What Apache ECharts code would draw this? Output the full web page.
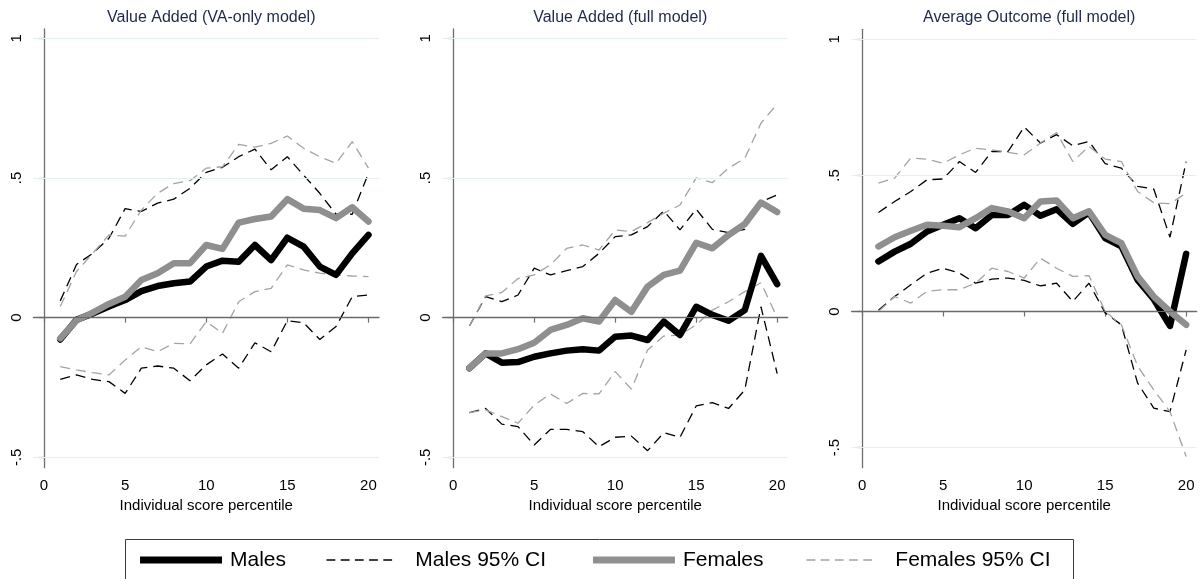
<!DOCTYPE html>
<html>
<head>
<meta charset="utf-8">
<script src="https://cdn.jsdelivr.net/npm/echarts@6/dist/echarts.min.js"></script>
<style>
  html, body { margin: 0; padding: 0; background: #fff; }
  #chart { width: 1202px; height: 579px; }
</style>
</head>
<body>
<div id="chart"></div>
<script>
// Individual score percentile (x positions shared by all panels)
const percentiles = [1, 2, 3, 4, 5, 6, 7, 8, 9, 10, 11, 12, 13, 14, 15, 16, 17, 18, 19, 20];

// Panel 1: Value Added (VA-only model)
const vaOnlyMales        = [-0.078, -0.008, 0.015, 0.040, 0.063, 0.095, 0.113, 0.123, 0.129, 0.183, 0.204, 0.200, 0.260, 0.206, 0.286, 0.254, 0.183, 0.153, 0.230, 0.296];
const vaOnlyMalesUpper   = [0.060, 0.190, 0.230, 0.284, 0.390, 0.380, 0.410, 0.424, 0.463, 0.520, 0.538, 0.576, 0.603, 0.529, 0.576, 0.510, 0.445, 0.370, 0.370, 0.517];
const vaOnlyMalesLower   = [-0.221, -0.205, -0.221, -0.229, -0.271, -0.181, -0.173, -0.181, -0.226, -0.169, -0.130, -0.181, -0.090, -0.122, -0.011, -0.018, -0.078, -0.032, 0.075, 0.081];
const vaOnlyFemales      = [-0.074, -0.010, 0.018, 0.049, 0.075, 0.135, 0.159, 0.195, 0.195, 0.260, 0.246, 0.340, 0.353, 0.362, 0.424, 0.390, 0.385, 0.356, 0.395, 0.344];
const vaOnlyFemalesUpper = [0.040, 0.165, 0.230, 0.296, 0.292, 0.385, 0.445, 0.480, 0.490, 0.535, 0.540, 0.620, 0.610, 0.624, 0.650, 0.606, 0.576, 0.552, 0.630, 0.535];
const vaOnlyFemalesLower = [-0.175, -0.187, -0.197, -0.205, -0.152, -0.104, -0.122, -0.092, -0.094, -0.014, -0.056, 0.057, 0.093, 0.105, 0.189, 0.171, 0.159, 0.153, 0.149, 0.147];

// Panel 2: Value Added (full model)
const vaFullMales        = [-0.181, -0.128, -0.161, -0.159, -0.140, -0.128, -0.118, -0.113, -0.118, -0.068, -0.064, -0.080, -0.014, -0.062, 0.039, 0.010, -0.011, 0.027, 0.221, 0.120];
const vaFullMalesUpper   = [-0.030, 0.075, 0.057, 0.081, 0.177, 0.153, 0.168, 0.183, 0.230, 0.290, 0.296, 0.326, 0.382, 0.314, 0.388, 0.316, 0.304, 0.316, 0.415, 0.439];
const vaFullMalesLower   = [-0.340, -0.325, -0.381, -0.390, -0.456, -0.400, -0.400, -0.408, -0.462, -0.428, -0.424, -0.476, -0.412, -0.428, -0.316, -0.304, -0.325, -0.259, 0.039, -0.200];
const vaFullFemales      = [-0.181, -0.128, -0.128, -0.113, -0.090, -0.044, -0.026, -0.002, -0.014, 0.063, 0.021, 0.111, 0.153, 0.168, 0.268, 0.248, 0.296, 0.335, 0.412, 0.378];
const vaFullFemalesUpper = [-0.030, 0.078, 0.090, 0.140, 0.153, 0.189, 0.248, 0.260, 0.242, 0.314, 0.308, 0.340, 0.374, 0.403, 0.500, 0.483, 0.535, 0.570, 0.696, 0.765];
const vaFullFemalesLower = [-0.340, -0.330, -0.354, -0.378, -0.313, -0.273, -0.307, -0.271, -0.273, -0.193, -0.256, -0.116, -0.066, -0.062, -0.026, 0.027, 0.057, 0.093, 0.125, 0.000];

// Panel 3: Average Outcome (full model)
const avgMales           = [0.184, 0.220, 0.249, 0.294, 0.319, 0.343, 0.306, 0.355, 0.355, 0.392, 0.352, 0.376, 0.322, 0.364, 0.270, 0.239, 0.116, 0.045, -0.053, 0.212];
const avgMalesUpper      = [0.364, 0.404, 0.441, 0.484, 0.487, 0.551, 0.511, 0.588, 0.588, 0.678, 0.619, 0.650, 0.609, 0.625, 0.543, 0.527, 0.460, 0.450, 0.273, 0.551];
const avgMalesLower      = [0.005, 0.055, 0.098, 0.141, 0.159, 0.141, 0.104, 0.119, 0.123, 0.114, 0.094, 0.104, 0.037, 0.104, -0.005, -0.049, -0.263, -0.355, -0.368, -0.141];
const avgFemales         = [0.239, 0.273, 0.297, 0.319, 0.315, 0.310, 0.343, 0.380, 0.368, 0.343, 0.404, 0.408, 0.343, 0.368, 0.282, 0.251, 0.129, 0.055, 0.000, -0.049];
const avgFemalesUpper    = [0.472, 0.490, 0.564, 0.560, 0.545, 0.576, 0.600, 0.594, 0.585, 0.576, 0.619, 0.658, 0.551, 0.607, 0.560, 0.551, 0.441, 0.400, 0.396, 0.435];
const avgFemalesLower    = [0.000, 0.055, 0.031, 0.074, 0.080, 0.080, 0.104, 0.159, 0.147, 0.123, 0.196, 0.159, 0.129, 0.132, 0.000, -0.049, -0.200, -0.288, -0.368, -0.533];

// Axis ticks and labels
const xTicks = [0, 5, 10, 15, 20];
const yTicks = [-0.5, 0, 0.5, 1];
const panelTitles = ['Value Added (VA-only model)', 'Value Added (full model)', 'Average Outcome (full model)'];
const xAxisTitle = 'Individual score percentile';
const seriesNames = ['Males', 'Males 95% CI', 'Females', 'Females 95% CI'];

const panels = [
  { males: vaOnlyMales, mUp: vaOnlyMalesUpper, mLo: vaOnlyMalesLower, females: vaOnlyFemales, fUp: vaOnlyFemalesUpper, fLo: vaOnlyFemalesLower },
  { males: vaFullMales, mUp: vaFullMalesUpper, mLo: vaFullMalesLower, females: vaFullFemales, fUp: vaFullFemalesUpper, fLo: vaFullFemalesLower },
  { males: avgMales, mUp: avgMalesUpper, mLo: avgMalesLower, females: avgFemales, fUp: avgFemalesUpper, fLo: avgFemalesLower }
];

const FONT = '"Liberation Sans", Arial, Helvetica, sans-serif';
const AXIS_COLOR = '#6e6e6e';
const MALE_COLOR = '#000000';
const FEMALE_COLOR = '#8f8f8f';
const FEMALE_CI_COLOR = '#a3a3a3';

// Five-dash legend key for the confidence-interval lines
const DASH_ICON = 'path://M0,0h11v2h-11z M17.75,0h11v2h-11z M35.5,0h11v2h-11z M53.25,0h11v2h-11z M71,0h11v2h-11z';

const gridBoxes = [
  { left: 33.5, top: 29, width: 345.5, height: 438.7 },
  { left: 442.7, top: 29, width: 345, height: 438.7 },
  { left: 851.7, top: 29.3, width: 345, height: 438.4 }
];
const yRanges = [
  { min: -0.537, max: 1.033 },
  { min: -0.537, max: 1.033 },
  { min: -0.574, max: 1.037 }
];

function fmtY(v) {
  if (v === 0) return '0';
  const s = String(Math.abs(v)).replace(/^0/, '');
  return (v < 0 ? '-' : '') + s;
}

function pairs(values) {
  return percentiles.map((x, i) => [x, values[i]]);
}

const grid = gridBoxes.map(g => Object.assign({ containLabel: false }, g));
const xAxis = gridBoxes.map((g, k) => ({
  type: 'value', gridIndex: k, min: -0.65, max: 20.65,
  axisLine: { show: true, lineStyle: { color: AXIS_COLOR, width: 1.3 } },
  axisTick: { show: true, customValues: xTicks, length: 5, lineStyle: { color: AXIS_COLOR, width: 1.2 } },
  axisLabel: { customValues: xTicks, color: '#000', fontSize: 15, fontFamily: FONT, margin: 11 },
  splitLine: { show: false },
  name: xAxisTitle, nameLocation: 'middle', nameGap: 30,
  nameTextStyle: { color: '#000', fontSize: 15, fontFamily: FONT }
}));
const yAxis = gridBoxes.map((g, k) => ({
  type: 'value', gridIndex: k, min: yRanges[k].min, max: yRanges[k].max,
  axisLine: { show: true, lineStyle: { color: AXIS_COLOR, width: 1.3 } },
  axisTick: { show: true, customValues: yTicks, length: 5, lineStyle: { color: AXIS_COLOR, width: 1.2 } },
  axisLabel: { customValues: yTicks, rotate: 90, color: '#000', fontSize: 15, fontFamily: FONT, margin: 9, formatter: fmtY },
  splitLine: { show: false }
}));

const title = gridBoxes.map((g, k) => ({
  text: panelTitles[k], left: g.left + g.width / 2, top: 5, textAlign: 'center',
  textStyle: { color: '#1c2a48', fontSize: 16, fontWeight: 'normal', fontFamily: FONT }
}));

const series = [];
panels.forEach((p, k) => {
  // reference lines: light grid at the labelled ticks, darker line at zero
  series.push({
    type: 'line', xAxisIndex: k, yAxisIndex: k, data: [], silent: true, z: 1,
    markLine: {
      silent: true, symbol: 'none', label: { show: false }, animation: false,
      data: [
        { yAxis: 1, lineStyle: { color: '#e6eff0', width: 1.2, type: 'solid' } },
        { yAxis: 0.5, lineStyle: { color: '#e6eff0', width: 1.2, type: 'solid' } },
        { yAxis: -0.5, lineStyle: { color: '#e6eff0', width: 1.2, type: 'solid' } },
        { yAxis: 0, lineStyle: { color: '#6a6a6a', width: 1.2, type: 'solid' } }
      ]
    }
  });
  const dashed = (name, data, color) => ({
    name, type: 'line', xAxisIndex: k, yAxisIndex: k, data: pairs(data),
    showSymbol: false, symbol: 'none', z: 3, animation: false,
    lineStyle: { color, width: 1.3, type: [10, 6] },
    itemStyle: { color }
  });
  const thick = (name, data, color) => ({
    name, type: 'line', xAxisIndex: k, yAxisIndex: k, data: pairs(data),
    showSymbol: false, symbol: 'none', z: 4, animation: false,
    lineStyle: { color, width: 6.5, cap: 'round', join: 'round' },
    itemStyle: { color }
  });
  series.push(dashed('Males 95% CI', p.mUp, MALE_COLOR));
  series.push(dashed('Males 95% CI', p.mLo, MALE_COLOR));
  series.push(dashed('Females 95% CI', p.fUp, FEMALE_CI_COLOR));
  series.push(dashed('Females 95% CI', p.fLo, FEMALE_CI_COLOR));
  series.push(thick('Males', p.males, MALE_COLOR));
  series.push(thick('Females', p.females, FEMALE_COLOR));
});

// Legend items: one legend per entry so each sits at its own position
const legendLefts = [135, 321.5, 588, 801.5];
const legend = seriesNames.map((name, i) => {
  const isThick = (i % 2 === 0);
  return {
    data: [{ name, icon: isThick ? 'rect' : DASH_ICON }],
    left: legendLefts[i], top: 543, orient: 'horizontal',
    itemWidth: 82, itemHeight: isThick ? 7 : 1.6,
    selectedMode: false,
    textStyle: { color: '#000', fontSize: 21, fontFamily: FONT, lineHeight: 24, padding: [0, 0, 0, isThick ? 3 : 10] }
  };
});

const chart = echarts.init(document.getElementById('chart'), null, { renderer: 'canvas' });
chart.setOption({
  backgroundColor: '#ffffff',
  animation: false,
  title, grid, xAxis, yAxis, legend, series,
  graphic: [{
    type: 'rect', left: 125, top: 539, z: -1,
    shape: { width: 948, height: 60 },
    style: { fill: '#ffffff', stroke: '#3c3c3c', lineWidth: 1 }
  }]
});
</script>
</body>
</html>
